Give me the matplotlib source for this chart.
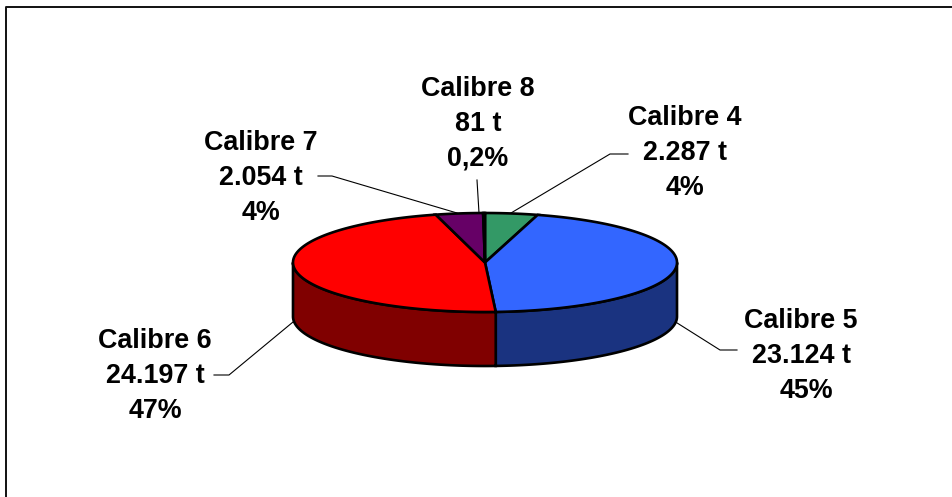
"""3D-look pie of calibre tonnage: top ellipse plus extruded rim, labels with leader lines."""
import numpy as np
import matplotlib; matplotlib.use('Agg'); import matplotlib.pyplot as plt

# clockwise from the top of the pie
names = ['Calibre 4', 'Calibre 5', 'Calibre 6', 'Calibre 7', 'Calibre 8']
tons = [2287, 23124, 24197, 2054, 81]
tons_txt = ['2.287 t', '23.124 t', '24.197 t', '2.054 t', '81 t']
pct_txt = ['4%', '45%', '47%', '4%', '0,2%']
top_col = ['#339966', '#3366FF', '#FF0000', '#660066', '#FF8080']
side_col = ['#1A4D33', '#1A3380', '#800000', '#330033', '#804040']

W, H = 952, 497
CX, CY, RX, RY, DEPTH = 485, 262.5, 192, 49.5, 54
LINE = 35
plt.rcParams['font.family'] = ['Liberation Sans', 'DejaVu Sans']
fig = plt.figure(figsize=(W / 100, H / 100), dpi=100)
ax = fig.add_axes([0, 0, 1, 1]); ax.set_xlim(0, W); ax.set_ylim(H, 0); ax.axis('off')

def rim(a, b):
    t = np.radians(np.linspace(a, b, max(int(abs(b - a) * 2), 2)))
    return CX + RX * np.sin(t), CY - RY * np.cos(t)

# frame: only left and top show, the rest is cut off by the crop
ax.plot([5.5, 5.5, W], [H, 6.5, 6.5], c='#111111', lw=1.4, zorder=1)

edges = np.cumsum([0] + tons) / sum(tons) * 360
# side walls first, only where the rim faces the viewer
for i in range(len(tons)):
    a, b = max(edges[i], 90), min(edges[i + 1], 270)
    if b <= a: continue
    x, y = rim(a, b)
    ax.fill(np.r_[x, x[::-1]], np.r_[y, y[::-1] + DEPTH], fc=side_col[i], ec='k', lw=1.9, zorder=2)
# top slices
for i in range(len(tons)):
    x, y = rim(edges[i], edges[i + 1])
    ax.fill(np.r_[CX, x], np.r_[CY, y], fc=top_col[i], ec='k', lw=1.9, zorder=3)

# label line centres: x per line, y of first line
lab_x = [(685, 685, 685), (801, 801, 806), (155, 155, 155), (261, 261, 261), (478, 478, 478)]
lab_y = [118, 321, 341, 143, 89]
leaders = [([628, 610, 511], [154, 154, 213]),
           ([674, 720, 737], [321, 350, 350]),
           ([293, 229, 214], [322, 375, 375]),
           ([318, 332, 457], [176, 176, 213]),
           ([477, 479], [180, 213])]
for i, n in enumerate(names):
    ax.plot(*leaders[i], c='k', lw=0.8, zorder=1.5)
    for j, s in enumerate([n, tons_txt[i], pct_txt[i]]):
        ax.text(lab_x[i][j], lab_y[i] + j * LINE, s, ha='center', va='center', fontsize=19.4, fontweight='bold', zorder=5)
fig.savefig('out.png', dpi=100)
